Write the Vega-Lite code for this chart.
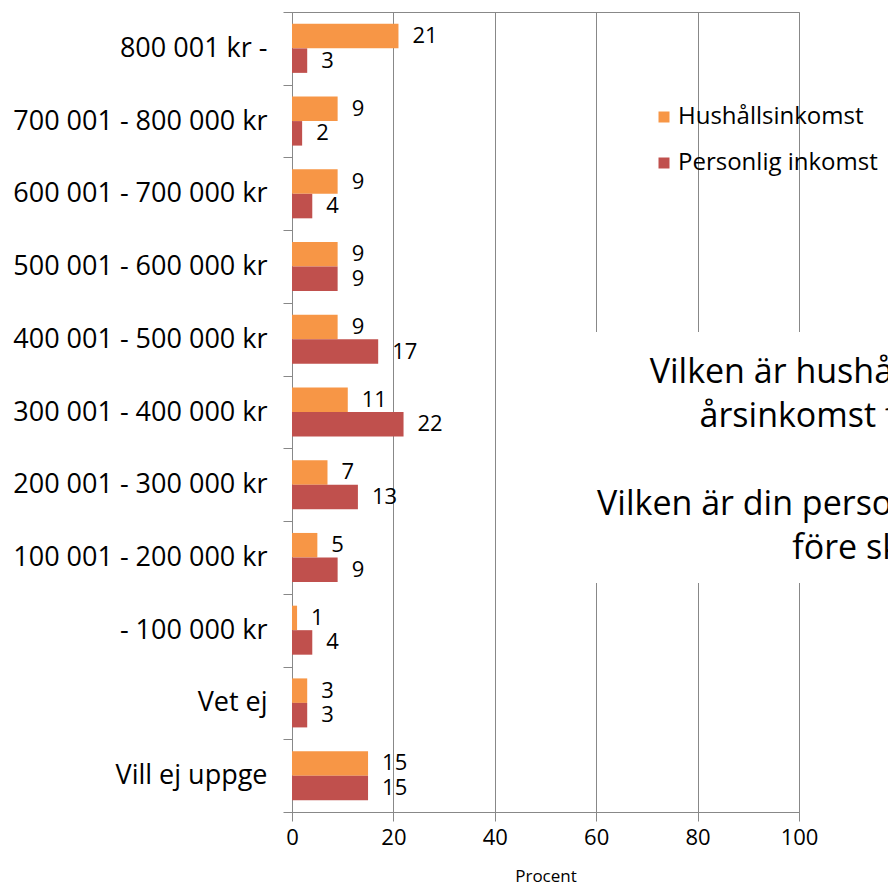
{
  "$schema": "https://vega.github.io/schema/vega-lite/v6.json",
  "width": 507,
  "height": 800,
  "autosize": {"type": "none"},
  "padding": {"left": 292, "top": 12, "right": 89, "bottom": 74},
  "config": {
    "font": "Open Sans",
    "view": {"stroke": "#888", "strokeWidth": 1}
  },
  "datasets": {
    "bars": [
      {"kategori": "800 001 kr -", "serie": "Hushållsinkomst", "procent": 21},
      {"kategori": "800 001 kr -", "serie": "Personlig inkomst", "procent": 3},
      {"kategori": "700 001 - 800 000 kr", "serie": "Hushållsinkomst", "procent": 9},
      {"kategori": "700 001 - 800 000 kr", "serie": "Personlig inkomst", "procent": 2},
      {"kategori": "600 001 - 700 000 kr", "serie": "Hushållsinkomst", "procent": 9},
      {"kategori": "600 001 - 700 000 kr", "serie": "Personlig inkomst", "procent": 4},
      {"kategori": "500 001 - 600 000 kr", "serie": "Hushållsinkomst", "procent": 9},
      {"kategori": "500 001 - 600 000 kr", "serie": "Personlig inkomst", "procent": 9},
      {"kategori": "400 001 - 500 000 kr", "serie": "Hushållsinkomst", "procent": 9},
      {"kategori": "400 001 - 500 000 kr", "serie": "Personlig inkomst", "procent": 17},
      {"kategori": "300 001 - 400 000 kr", "serie": "Hushållsinkomst", "procent": 11},
      {"kategori": "300 001 - 400 000 kr", "serie": "Personlig inkomst", "procent": 22},
      {"kategori": "200 001 - 300 000 kr", "serie": "Hushållsinkomst", "procent": 7},
      {"kategori": "200 001 - 300 000 kr", "serie": "Personlig inkomst", "procent": 13},
      {"kategori": "100 001 - 200 000 kr", "serie": "Hushållsinkomst", "procent": 5},
      {"kategori": "100 001 - 200 000 kr", "serie": "Personlig inkomst", "procent": 9},
      {"kategori": "- 100 000 kr", "serie": "Hushållsinkomst", "procent": 1},
      {"kategori": "- 100 000 kr", "serie": "Personlig inkomst", "procent": 4},
      {"kategori": "Vet ej", "serie": "Hushållsinkomst", "procent": 3},
      {"kategori": "Vet ej", "serie": "Personlig inkomst", "procent": 3},
      {"kategori": "Vill ej uppge", "serie": "Hushållsinkomst", "procent": 15},
      {"kategori": "Vill ej uppge", "serie": "Personlig inkomst", "procent": 15}
    ]
  },
  "layer": [
    {
      "data": {"name": "bars"},
      "mark": {"type": "bar"},
      "encoding": {
        "y": {
          "field": "kategori",
          "type": "nominal",
          "scale": {
            "domain": ["800 001 kr -", "700 001 - 800 000 kr", "600 001 - 700 000 kr", "500 001 - 600 000 kr", "400 001 - 500 000 kr", "300 001 - 400 000 kr", "200 001 - 300 000 kr", "100 001 - 200 000 kr", "- 100 000 kr", "Vet ej", "Vill ej uppge"],
            "paddingInner": 0,
            "paddingOuter": 0
          },
          "axis": {
            "title": null,
            "labelFontSize": 27,
            "labelColor": "black",
            "labelPadding": 16,
            "labelLimit": 400,
            "tickBand": "extent",
            "tickSize": 9,
            "tickColor": "#888",
            "domainColor": "#888"
          }
        },
        "x": {
          "field": "procent",
          "type": "quantitative",
          "scale": {"domain": [0, 100]},
          "axis": {
            "title": "Procent",
            "titleFontSize": 17,
            "titleFontWeight": "normal",
            "titleColor": "black",
            "titlePadding": 20,
            "values": [0, 20, 40, 60, 80, 100],
            "labelFontSize": 22,
            "labelColor": "black",
            "labelPadding": 6,
            "labelFlush": false,
            "labelOverlap": false,
            "tickSize": 9,
            "tickColor": "#888",
            "domainColor": "#888",
            "grid": true,
            "gridColor": "#888",
            "gridOpacity": 1
          }
        },
        "yOffset": {
          "field": "serie",
          "type": "nominal",
          "scale": {"domain": ["Hushållsinkomst", "Personlig inkomst"], "paddingInner": 0, "paddingOuter": 0.484}
        },
        "color": {
          "field": "serie",
          "type": "nominal",
          "scale": {"domain": ["Hushållsinkomst", "Personlig inkomst"], "range": ["#F79646", "#C0504D"]},
          "legend": {
            "title": null,
            "orient": "none",
            "legendX": 360,
            "legendY": 93,
            "padding": 0,
            "labelFontSize": 24,
            "labelColor": "black",
            "labelOffset": 2,
            "labelLimit": 0,
            "symbolType": "square",
            "symbolSize": 121,
            "symbolStrokeWidth": 0,
            "rowPadding": 22
          }
        }
      }
    },
    {
      "data": {"name": "bars"},
      "mark": {"type": "text", "align": "left", "baseline": "middle", "dx": 14, "fontSize": 22, "color": "black"},
      "encoding": {
        "y": {"field": "kategori", "type": "nominal"},
        "x": {"field": "procent", "type": "quantitative"},
        "yOffset": {"field": "serie", "type": "nominal"},
        "text": {"field": "procent", "type": "quantitative"}
      }
    },
    {
      "data": {"values": [{}]},
      "mark": {"type": "bar", "color": "white", "height": 251, "yOffset": 45.5, "strokeWidth": 0},
      "encoding": {
        "y": {"datum": "300 001 - 400 000 kr", "type": "nominal"},
        "x": {"datum": 58, "type": "quantitative"},
        "x2": {"datum": 135}
      }
    },
    {
      "data": {"values": [{}]},
      "mark": {
        "type": "text",
        "text": ["Vilken är hushållets samlade", "årsinkomst före skatt?"],
        "align": "center",
        "baseline": "alphabetic",
        "fontSize": 34,
        "lineHeight": 44,
        "dy": 44,
        "color": "black"
      },
      "encoding": {
        "y": {"datum": "400 001 - 500 000 kr", "type": "nominal"},
        "x": {"datum": 115, "type": "quantitative"}
      }
    },
    {
      "data": {"values": [{}]},
      "mark": {
        "type": "text",
        "text": ["Vilken är din personliga årsinkomst", "före skatt?"],
        "align": "center",
        "baseline": "alphabetic",
        "fontSize": 34,
        "lineHeight": 44,
        "dy": 176,
        "color": "black"
      },
      "encoding": {
        "y": {"datum": "400 001 - 500 000 kr", "type": "nominal"},
        "x": {"datum": 115, "type": "quantitative"}
      }
    }
  ]
}
